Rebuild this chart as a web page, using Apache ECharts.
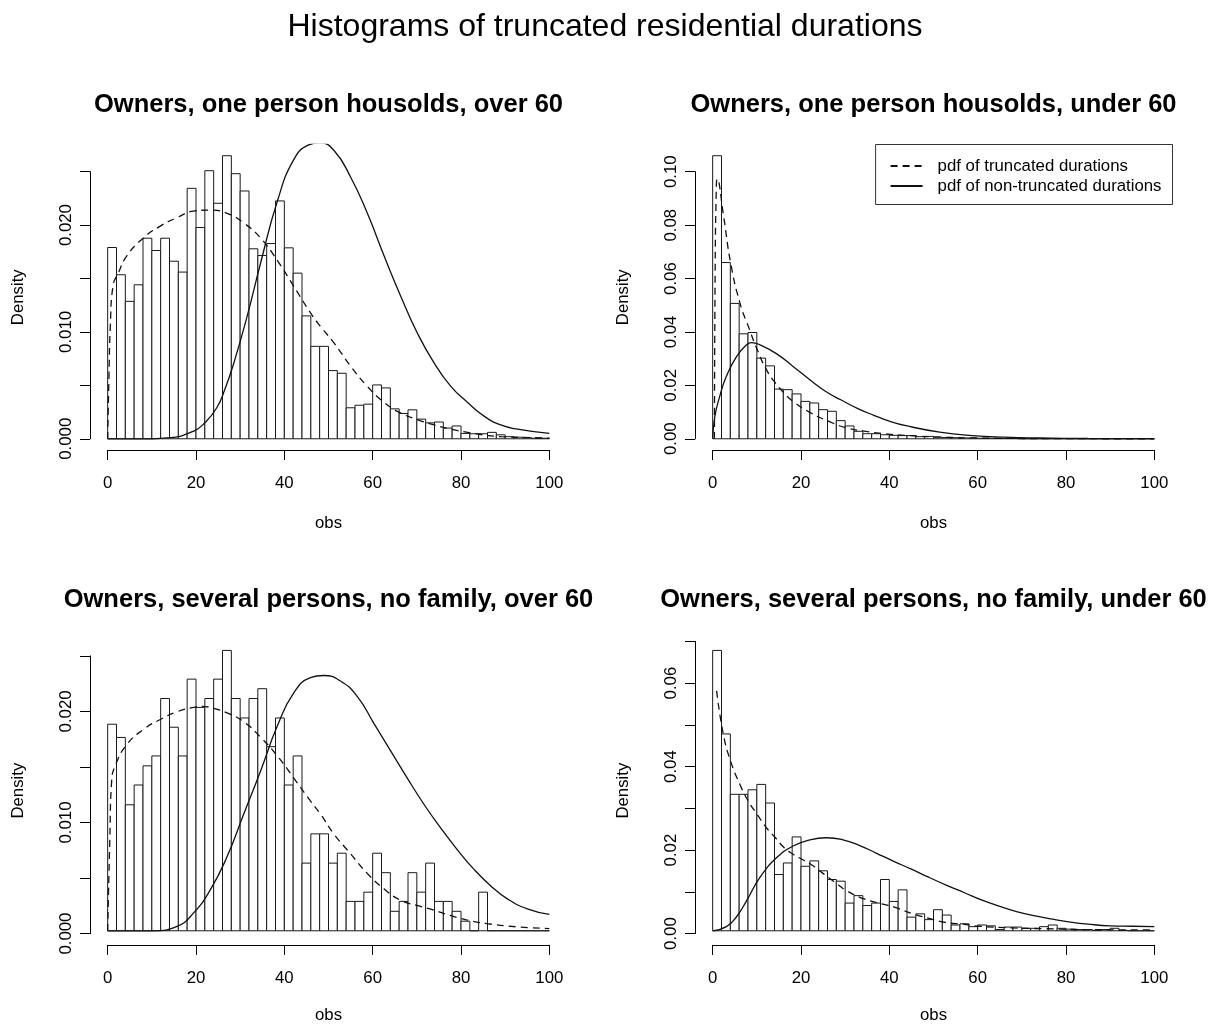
<!DOCTYPE html>
<html><head><meta charset="utf-8">
<script src="https://cdn.jsdelivr.net/npm/echarts@6/dist/echarts.min.js"></script>
<style>html,body{margin:0;padding:0;background:#fff}#c{width:1210px;height:1025px}</style>
</head><body><div id="c"></div>
<script>
// ---------------- data ----------------
const mainTitle = 'Histograms of truncated residential durations';
const panelTitles = [
  'Owners, one person housolds, over 60',
  'Owners, one person housolds, under 60',
  'Owners, several persons, no family, over 60',
  'Owners, several persons, no family, under 60'
];
const legendNames = ['pdf of truncated durations', 'pdf of non-truncated durations'];
const xLabel = 'obs';
const yLabel = 'Density';

const breaks = [0,2,4,6,8,10,12,14,16,18,20,22,24,26,28,30,32,34,36,38,40,42,44,46,48,50,
  52,54,56,58,60,62,64,66,68,70,72,74,76,78,80,82,84,86,88,90,92,94,96,98,100];

const xTickLabels = ['0','20','40','60','80','100'];
const yTickLabels1 = ['0.000','0.010','0.020'];
const yTickLabels2 = ['0.00','0.02','0.04','0.06','0.08','0.10'];
const yTickLabels3 = ['0.000','0.010','0.020'];
const yTickLabels4 = ['0.00','0.02','0.04','0.06'];

const dens1 = [0.0179,0.01535,0.01286,0.01441,0.01877,0.01762,0.01877,0.01662,0.0156,0.02344,
  0.01977,0.02509,0.02204,0.02649,0.02481,0.02319,0.01778,0.01715,0.01827,0.02226,
  0.01787,0.0155,0.0115,0.00865,0.00865,0.00638,0.00613,0.0029,0.00314,0.00324,
  0.00504,0.00476,0.0028,0.00237,0.00271,0.00184,0.00149,0.00157,0.001,0.0012,
  0.0005,0.00047,0.00047,0.0006,0.00037,0.0002,0.00015,0.0001,0.00005,0.00005];
const dens2 = [0.106,0.066,0.0507,0.0393,0.0398,0.0302,0.0273,0.0186,0.0184,0.0168,
  0.014,0.0134,0.0109,0.0103,0.0068,0.0048,0.0028,0.0019,0.0019,0.0015,
  0.0013,0.0012,0.0012,0.0008,0.0009,0.0006,0.0005,0.0004,0.0003,0.0003,
  0.0002,0.0002,0.0001,0.0001,0.0001,0,0,0,0,0,
  0,0,0,0,0,0,0,0,0,0];
const dens3 = [0.01877,0.01757,0.01145,0.01325,0.01499,0.01589,0.02111,0.0185,0.01589,0.02287,
  0.0203,0.02111,0.02287,0.02548,0.02111,0.01934,0.02111,0.022,0.01673,0.01934,
  0.01325,0.01589,0.00615,0.00881,0.00881,0.00615,0.00705,0.00267,0.00267,0.00351,
  0.00705,0.00528,0.00177,0.00267,0.00528,0.00351,0.00615,0.00267,0.00267,0.00177,
  0.00087,0,0.00351,0,0,0,0,0,0,0];
const dens4 = [0.0678,0.0476,0.033,0.033,0.0341,0.0354,0.0309,0.0136,0.0164,0.0227,
  0.0156,0.0169,0.0145,0.0124,0.012,0.0067,0.0085,0.0061,0.0067,0.0124,
  0.0071,0.0099,0.0033,0.0041,0.0027,0.0051,0.0038,0.0014,0.0017,0.001,
  0.0014,0.0012,0.0003,0.0009,0.0009,0.0006,0.0006,0.001,0.0014,0.0006,
  0.0004,0.0003,0.0003,0.0001,0.0003,0.0006,0.0001,0,0,0];

// pdf curves: [obs, density]
const trunc1 = [[0,0],[0.3,0.006],[0.6,0.0105],[1.2,0.0143],[2.4,0.0155],[4.3,0.0171],[8.1,0.0188],
  [11.9,0.0199],[15.7,0.0207],[19.4,0.0213],[23.2,0.0214],[27,0.0211],[30.8,0.0202],[34.6,0.0188],
  [38.4,0.0167],[42.1,0.0143],[45.9,0.0118],[48.2,0.0105],[51.2,0.009],[55,0.0068],[58.8,0.0049],
  [62.6,0.0034],[66.4,0.0024],[70.1,0.0018],[73.9,0.0013],[77.7,0.0009],[81.5,0.0006],[89,0.0002],
  [96.6,0.0001],[100,0.00005]];
const non1 = [[0,0],[10,0],[14.1,0.0001],[19.4,0.0007],[22,0.0015],[24.7,0.0029],[26.6,0.0047],
  [28.5,0.007],[31.6,0.0115],[34.6,0.0164],[38.4,0.0222],[42.1,0.0261],[45.5,0.0275],[48,0.0277],
  [51.2,0.027],[55,0.0245],[58.8,0.0211],[62.6,0.0171],[66.4,0.0133],[70.1,0.0099],[73.9,0.0071],
  [77.7,0.0049],[81.5,0.0034],[85.3,0.0021],[89,0.0013],[92.8,0.0009],[100,0.0005]];
const trunc2 = [[0.4,0],[0.55,0.06],[0.8,0.092],[1.04,0.0973],[2.4,0.0842],[4.1,0.0656],[6.2,0.0507],
  [8.1,0.042],[10.1,0.0333],[12.2,0.0258],[14.2,0.0209],[16.2,0.0171],[18.2,0.014],[22.2,0.0097],
  [26.2,0.0066],[30.3,0.0041],[34.3,0.0029],[38.3,0.002],[44.3,0.0012],[52,0.0006],[60,0.0003],
  [70,0.0001],[100,0]];
const non2 = [[0,0],[0.5,0.0084],[1.6,0.0159],[3.1,0.0234],[5.4,0.0308],[7.7,0.0352],[8.8,0.036],
  [10.7,0.0352],[14.5,0.0318],[18.2,0.0271],[22,0.0221],[25.8,0.0175],[29,0.0146],[33,0.0112],
  [36.5,0.0088],[40,0.0066],[44,0.0048],[51.4,0.0025],[58.8,0.0012],[66,0.0006],[74,0.0003],
  [85,0.0001],[100,0.00003]];
const trunc3 = [[0,0],[0.5,0.0085],[0.9,0.0136],[1.7,0.015],[4.3,0.0169],[8.1,0.0183],[11.9,0.0192],
  [15.7,0.0199],[19.4,0.0203],[21.3,0.0204],[23.2,0.0203],[27,0.0198],[30.8,0.019],[34.6,0.0176],
  [38.4,0.0159],[42.1,0.0139],[45.9,0.0118],[48.2,0.0106],[51.2,0.0088],[55,0.007],[58.8,0.0052],
  [62.6,0.0038],[66.2,0.0028],[70,0.0023],[73.7,0.0019],[77.5,0.0014],[81.2,0.001],[85.8,0.00066],
  [92.6,0.00036],[100,0.0002]];
const non3 = [[0,0],[10.4,0],[15.7,0.0004],[19.4,0.0016],[23.2,0.0037],[27,0.0067],[30.7,0.0105],
  [34.6,0.0145],[38.4,0.0186],[42.1,0.0216],[45.9,0.023],[48.9,0.0232],[52.7,0.0227],[56.5,0.0213],
  [60.2,0.0189],[64,0.0164],[67.8,0.0139],[71.6,0.0115],[75.3,0.0094],[79.1,0.0074],[82.9,0.0056],
  [86.7,0.0041],[90.5,0.0029],[95,0.002],[100,0.0015]];
const trunc4 = [[0.9,0.058],[2.4,0.0476],[4.1,0.0409],[6.2,0.0353],[8.1,0.0313],[10.1,0.0281],
  [12.2,0.0249],[14.2,0.0225],[16.2,0.0201],[18.2,0.0185],[20.2,0.0173],[22.2,0.0161],[24.2,0.0145],
  [26.2,0.0129],[28.2,0.0113],[30.3,0.0097],[34.3,0.0077],[38.3,0.0065],[41.5,0.0056],[45.3,0.0041],
  [49,0.003],[52.8,0.002],[56.6,0.0016],[60.3,0.0011],[67.9,0.0007],[75.4,0.0005],[83,0.0003],
  [100,0.0002]];
const non4 = [[0,0],[3.1,0.001],[5.4,0.0034],[7.7,0.0073],[10.7,0.0129],[14.5,0.0177],[18.2,0.0205],
  [22,0.022],[25.8,0.0225],[29.5,0.022],[33.3,0.0206],[37,0.0188],[41,0.0168],[45,0.0149],
  [49,0.0129],[53,0.011],[57,0.0092],[61,0.0074],[65,0.0059],[69,0.0046],[73,0.0036],[77,0.0028],
  [81,0.0021],[85,0.0016],[90,0.0012],[95,0.0011],[100,0.001]];

// ---------------- layout ----------------
const FONT = '"Liberation Sans", Arial, Helvetica, sans-serif';
const FS = 16.8;
const colLeft = [90, 695];
const plotW = 477;
const rowTop = [144.4, 639.2];
const plotH = 305.7;
const titleTop = [92, 586.5];
const xMin = -4, xMax = 104;

const panels = [
  {dens: dens1, trunc: trunc1, non: non1, labels: yTickLabels1, step: 0.005, top: 0.025, dec: 3, col: 0, row: 0},
  {dens: dens2, trunc: trunc2, non: non2, labels: yTickLabels2, step: 0.02,  top: 0.10,  dec: 2, col: 1, row: 0},
  {dens: dens3, trunc: trunc3, non: non3, labels: yTickLabels3, step: 0.005, top: 0.025, dec: 3, col: 0, row: 1},
  {dens: dens4, trunc: trunc4, non: non4, labels: yTickLabels4, step: 0.01,  top: 0.07,  dec: 2, col: 1, row: 1}
];

const grid = [], xAxis = [], yAxis = [], series = [];
const title = [{
  text: mainTitle, left: 605, top: 11, textAlign: 'center', padding: 0,
  textStyle: {fontFamily: FONT, fontSize: 32, fontWeight: 'normal', color: '#000'}
}];

const axisLineStyle = {color: '#000', width: 1};

panels.forEach((p, k) => {
  const L = colLeft[p.col], T = rowTop[p.row];
  const maxD = Math.max.apply(null, p.dens);
  const yMin = -0.04 * maxD, yMax = 1.04 * maxD;
  const ypix = v => T + (yMax - v) / (yMax - yMin) * plotH;
  const xpix = v => L + (v - xMin) / (xMax - xMin) * plotW;
  const g = grid.length;

  // data grid
  grid.push({left: L, top: T, width: plotW, height: plotH, containLabel: false});
  xAxis.push({gridIndex: g, type: 'value', min: xMin, max: xMax, show: true,
    axisLine: {show: false}, axisTick: {show: false}, axisLabel: {show: false}, splitLine: {show: false},
    name: xLabel, nameLocation: 'middle', nameGap: 65,
    nameTextStyle: {fontFamily: FONT, fontSize: FS, color: '#000'}});
  yAxis.push({gridIndex: g, type: 'value', min: yMin, max: yMax, show: true,
    axisLine: {show: false}, axisTick: {show: false}, axisLabel: {show: false}, splitLine: {show: false},
    name: yLabel, nameLocation: 'middle', nameGap: 63, nameRotate: 90,
    nameTextStyle: {fontFamily: FONT, fontSize: FS, color: '#000'}});

  // y-axis grid (spans 0 .. last tick only, like R)
  const yt = ypix(p.top), yb = ypix(0);
  grid.push({left: L, top: yt, width: 1, height: yb - yt});
  xAxis.push({gridIndex: g + 1, type: 'value', show: false, min: 0, max: 1});
  yAxis.push({gridIndex: g + 1, type: 'value', position: 'left', min: 0, max: p.top, interval: p.step,
    axisLine: {show: true, lineStyle: axisLineStyle},
    axisTick: {show: true, length: 10, lineStyle: axisLineStyle},
    splitLine: {show: false},
    axisLabel: {show: true, rotate: 90, margin: 15, fontFamily: FONT, fontSize: FS, color: '#000',
      showMinLabel: true, showMaxLabel: true,
      formatter: (v) => { const s = (+v).toFixed(p.dec); return p.labels.indexOf(s) >= 0 ? s : ''; }}});

  // x-axis grid (spans 0 .. 100)
  const x0 = xpix(0), x1 = xpix(100);
  grid.push({left: x0, top: T + plotH - 1, width: x1 - x0, height: 1});
  xAxis.push({gridIndex: g + 2, type: 'value', position: 'bottom', min: 0, max: 100, interval: 20,
    axisLine: {show: true, lineStyle: axisLineStyle},
    axisTick: {show: true, length: 10, lineStyle: axisLineStyle},
    splitLine: {show: false},
    axisLabel: {show: true, margin: 25, fontFamily: FONT, fontSize: FS, color: '#000',
      showMinLabel: true, showMaxLabel: true,
      formatter: (v) => { const s = String(Math.round(v)); return xTickLabels.indexOf(s) >= 0 ? s : ''; }}});
  yAxis.push({gridIndex: g + 2, type: 'value', show: false, min: 0, max: 1});

  // panel title
  title.push({text: panelTitles[k], left: L + plotW / 2, top: titleTop[p.row], textAlign: 'center', padding: 0,
    textStyle: {fontFamily: FONT, fontSize: 25.5, fontWeight: 'bold', color: '#000'}});

  // histogram
  const histData = p.dens.map((d, i) => [breaks[i], breaks[i + 1], d]);
  series.push({
    type: 'custom', xAxisIndex: g, yAxisIndex: g, data: histData, silent: true, z: 2,
    renderItem: function (params, api) {
      const a = api.coord([api.value(0), api.value(2)]);
      const b = api.coord([api.value(1), 0]);
      return {type: 'rect', shape: {x: a[0], y: a[1], width: b[0] - a[0], height: b[1] - a[1]},
        style: {fill: '#fff', stroke: '#1a1a1a', lineWidth: 1}};
    }
  });
  series.push({
    type: 'line', name: legendNames[0], xAxisIndex: g, yAxisIndex: g, data: p.trunc,
    showSymbol: false, symbol: 'none', smooth: 0.5, clip: true, z: 3,
    lineStyle: {color: '#111', width: 1.3, type: [7, 5]}, itemStyle: {color: '#111'}
  });
  series.push({
    type: 'line', name: legendNames[1], xAxisIndex: g, yAxisIndex: g, data: p.non,
    showSymbol: false, symbol: 'none', smooth: 0.5, clip: true, z: 3,
    lineStyle: {color: '#111', width: 1.3, type: 'solid'}, itemStyle: {color: '#111'}
  });
});

const option = {
  animation: false,
  backgroundColor: '#fff',
  textStyle: {fontFamily: FONT},
  title: title,
  grid: grid, xAxis: xAxis, yAxis: yAxis, series: series,
  legend: {
    data: legendNames, orient: 'vertical', right: 37.5, top: 144.5, selectedMode: false,
    padding: [13, 11, 10, 14], itemGap: 3, itemWidth: 32, itemHeight: 17,
    borderColor: '#333', borderWidth: 1, borderRadius: 0, backgroundColor: '#fff',
    itemStyle: {opacity: 0},
    textStyle: {fontFamily: FONT, fontSize: FS, color: '#000', lineHeight: 17, padding: [0, 0, 0, 10]}
  }
};
const chart = echarts.init(document.getElementById('c'), null, {renderer: 'canvas'});
chart.setOption(option);
</script>
</body></html>
